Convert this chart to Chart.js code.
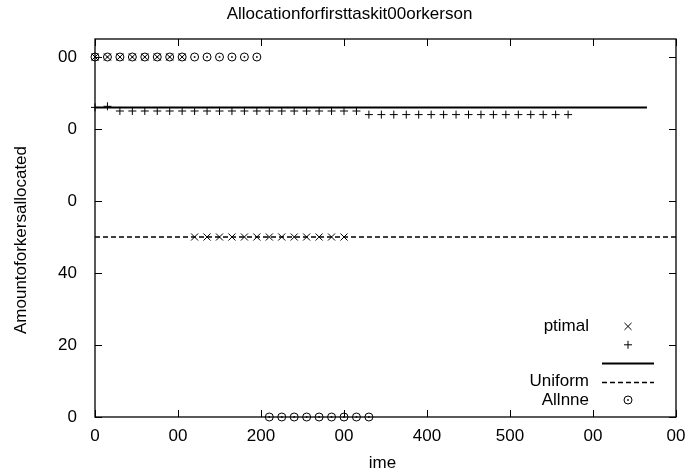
<!DOCTYPE html>
<html>
<head>
<meta charset="utf-8">
<script src="https://cdn.jsdelivr.net/npm/chart.js@4/dist/chart.umd.min.js"></script>
<style>
  html, body { margin: 0; padding: 0; background: #fff; }
  #wrap { width: 699px; height: 475px; }
</style>
</head>
<body>
<div id="wrap"><canvas id="allocChart" width="699" height="475"></canvas></div>
<script>
// time steps shared by the point series
var timeSteps = [0, 15, 30, 45, 60, 75, 90, 105, 120, 135, 150, 165, 180, 195, 210, 225, 240, 255, 270,
                 285, 300, 315, 330, 345, 360, 375, 390, 405, 420, 435, 450, 465, 480, 495, 510, 525, 540, 555, 570];

var optimalValues = [100, 100, 100, 100, 100, 100, 100, 100,
                     50, 50, 50, 50, 50, 50, 50, 50, 50, 50, 50, 50, 50];
var plusValues = [86, 86.3,
                  85, 85, 85, 85, 85, 85, 85, 85, 85, 85, 85, 85, 85, 85, 85, 85, 85, 85, 85, 85,
                  84, 84, 84, 84, 84, 84, 84, 84, 84, 84, 84, 84, 84, 84, 84, 84, 84];
var allOneValues = [100, 100, 100, 100, 100, 100, 100, 100, 100, 100, 100, 100, 100, 100,
                    0, 0, 0, 0, 0, 0, 0, 0, 0];
var solidTimes = [0, 665];
var solidValues = [86, 86];
var uniformTimes = [0, 700];
var uniformValues = [50, 50];

var seriesNames = ['ptimal', '', '', 'Uniform', 'Allnne'];

var xTickValues = [0, 100, 200, 300, 400, 500, 600, 700];
var xTickLabels = ['0', '00', '200', '00', '400', '500', '00', '00'];
var yTickValues = [0, 20, 40, 60, 80, 100];
var yTickLabels = ['0', '20', '40', '0', '0', '00'];

var chartTitle = 'Allocationforfirsttaskit00orkerson';
var xTitle = 'ime';
var yTitle = 'Amountoforkersallocated';

function pairs(xs, ys) {
	return ys.map(function(v, i) { return {x: xs[i], y: v}; });
}

function tickText(values, labels) {
	return function(value) {
		var i = values.indexOf(value);
		return i < 0 ? '' : labels[i];
	};
}

// same marks as the chart points, for the key
function drawMark(ctx, style, x, y, r) {
	ctx.beginPath();
	if (style == 'crossRot') {
		var d = r * Math.SQRT1_2;
		ctx.moveTo(x - d, y - d); ctx.lineTo(x + d, y + d);
		ctx.moveTo(x + d, y - d); ctx.lineTo(x - d, y + d);
	} else if (style == 'cross') {
		ctx.moveTo(x - r, y); ctx.lineTo(x + r, y);
		ctx.moveTo(x, y - r); ctx.lineTo(x, y + r);
	} else {
		ctx.arc(x, y, r, 0, Math.PI * 2);
	}
	ctx.stroke();
	if (style == 'circle') ctx.fillRect(x - 0.8, y - 0.8, 1.6, 1.6);
}

var FONT = '17px "Liberation Sans", Arial, sans-serif';

var gnuFrame = {
	id: 'gnuFrame',
	beforeDatasetsDraw: function(chart) {
		var ctx = chart.ctx, a = chart.chartArea,
			xs = chart.scales.x, ys = chart.scales.y, tl = 7;
		ctx.save();
		ctx.strokeStyle = '#000';
		ctx.lineWidth = 1;
		ctx.beginPath();
		xs.ticks.forEach(function(t) {
			var px = Math.round(xs.getPixelForValue(t.value)) + 0.5;
			ctx.moveTo(px, a.bottom); ctx.lineTo(px, a.bottom - tl);
			ctx.moveTo(px, a.top); ctx.lineTo(px, a.top + tl);
		});
		ys.ticks.forEach(function(t) {
			var py = Math.round(ys.getPixelForValue(t.value)) + 0.5;
			ctx.moveTo(a.left, py); ctx.lineTo(a.left + tl, py);
			ctx.moveTo(a.right, py); ctx.lineTo(a.right - tl, py);
		});
		ctx.stroke();
		ctx.lineWidth = 1.3;
		ctx.strokeRect(Math.round(a.left), Math.round(a.top),
			Math.round(a.right - a.left), Math.round(a.bottom - a.top));

		// titles, placed the way the original plot has them
		var cx = (a.left + a.right) / 2, cy = (a.top + a.bottom) / 2;
		ctx.font = FONT;
		ctx.fillStyle = '#000';
		ctx.textAlign = 'center';
		ctx.textBaseline = 'middle';
		ctx.fillText(chartTitle, cx - 36, 14);
		ctx.fillText(xTitle, cx - 3, chart.height - 12);
		ctx.save();
		ctx.translate(21, cy + 12);
		ctx.rotate(-Math.PI / 2);
		ctx.fillText(yTitle, 0, 0);
		ctx.restore();
		ctx.restore();
	},
	afterDatasetsDraw: function(chart) {
		// centre dots of the circle marks
		var ctx = chart.ctx;
		ctx.save();
		ctx.fillStyle = '#000';
		chart.data.datasets.forEach(function(ds, i) {
			if (ds.pointStyle != 'circle') return;
			chart.getDatasetMeta(i).data.forEach(function(pt) {
				ctx.fillRect(pt.x - 0.8, pt.y - 0.8, 1.6, 1.6);
			});
		});
		ctx.restore();
	},
	afterDraw: function(chart) {
		// key in the lower right corner, text left of the sample
		var ctx = chart.ctx, a = chart.chartArea,
			sampleEnd = a.right - 22, sampleLen = 52,
			textRight = sampleEnd - sampleLen - 13,
			step = 18.4, n = chart.data.datasets.length;
		ctx.save();
		ctx.font = FONT;
		ctx.fillStyle = '#000';
		ctx.strokeStyle = '#000';
		ctx.textAlign = 'right';
		ctx.textBaseline = 'middle';
		chart.data.datasets.forEach(function(ds, i) {
			var y = a.bottom - 17 - (n - 1 - i) * step;
			if (ds.label) ctx.fillText(ds.label, textRight, y);
			if (ds.showLine) {
				ctx.beginPath();
				ctx.lineWidth = ds.borderWidth;
				ctx.setLineDash(ds.borderDash || []);
				ctx.moveTo(sampleEnd - sampleLen, Math.round(y) + 0.5);
				ctx.lineTo(sampleEnd, Math.round(y) + 0.5);
				ctx.stroke();
				ctx.setLineDash([]);
			} else {
				ctx.lineWidth = 1;
				drawMark(ctx, ds.pointStyle, sampleEnd - sampleLen / 2, y, ds.pointRadius);
			}
		});
		ctx.restore();
	}
};

Chart.defaults.font.family = '"Liberation Sans", Arial, sans-serif';
Chart.defaults.font.size = 17;
Chart.defaults.color = '#000';

var pointSet = function(label, xs, ys, style, r) {
	return {
		label: label,
		data: pairs(xs, ys),
		pointStyle: style,
		pointRadius: r,
		pointHoverRadius: r,
		pointBorderWidth: 1,
		pointBorderColor: '#000',
		pointBackgroundColor: 'rgba(0,0,0,0)',
		showLine: false,
		clip: false
	};
};

new Chart(document.getElementById('allocChart'), {
	type: 'scatter',
	data: {
		datasets: [
			pointSet(seriesNames[0], timeSteps, optimalValues, 'crossRot', 5),
			pointSet(seriesNames[1], timeSteps, plusValues, 'cross', 4),
			{
				label: seriesNames[2],
				data: pairs(solidTimes, solidValues),
				showLine: true,
				borderColor: '#000',
				borderWidth: 2,
				pointRadius: 0,
				clip: false
			},
			{
				label: seriesNames[3],
				data: pairs(uniformTimes, uniformValues),
				showLine: true,
				borderColor: '#000',
				borderWidth: 1.5,
				borderDash: [5, 3],
				pointRadius: 0,
				clip: false
			},
			pointSet(seriesNames[4], timeSteps, allOneValues, 'circle', 4)
		]
	},
	options: {
		responsive: false,
		animation: false,
		events: [],
		layout: { padding: { left: 0, right: 23, top: 39, bottom: 0 } },
		plugins: {
			legend: { display: false },
			tooltip: { enabled: false },
			title: { display: false }
		},
		scales: {
			x: {
				type: 'linear',
				min: 0, max: 700,
				grid: { display: false, drawTicks: false },
				border: { display: false },
				ticks: { stepSize: 100, padding: 9, maxRotation: 0, callback: tickText(xTickValues, xTickLabels) },
				afterFit: function(s) { s.height = 58; }
			},
			y: {
				type: 'linear',
				min: 0, max: 105,
				grid: { display: false, drawTicks: false },
				border: { display: false },
				ticks: { stepSize: 20, includeBounds: false, padding: 18, callback: tickText(yTickValues, yTickLabels) },
				afterFit: function(s) { s.width = 95; }
			}
		}
	},
	plugins: [gnuFrame]
});
</script>
</body>
</html>
